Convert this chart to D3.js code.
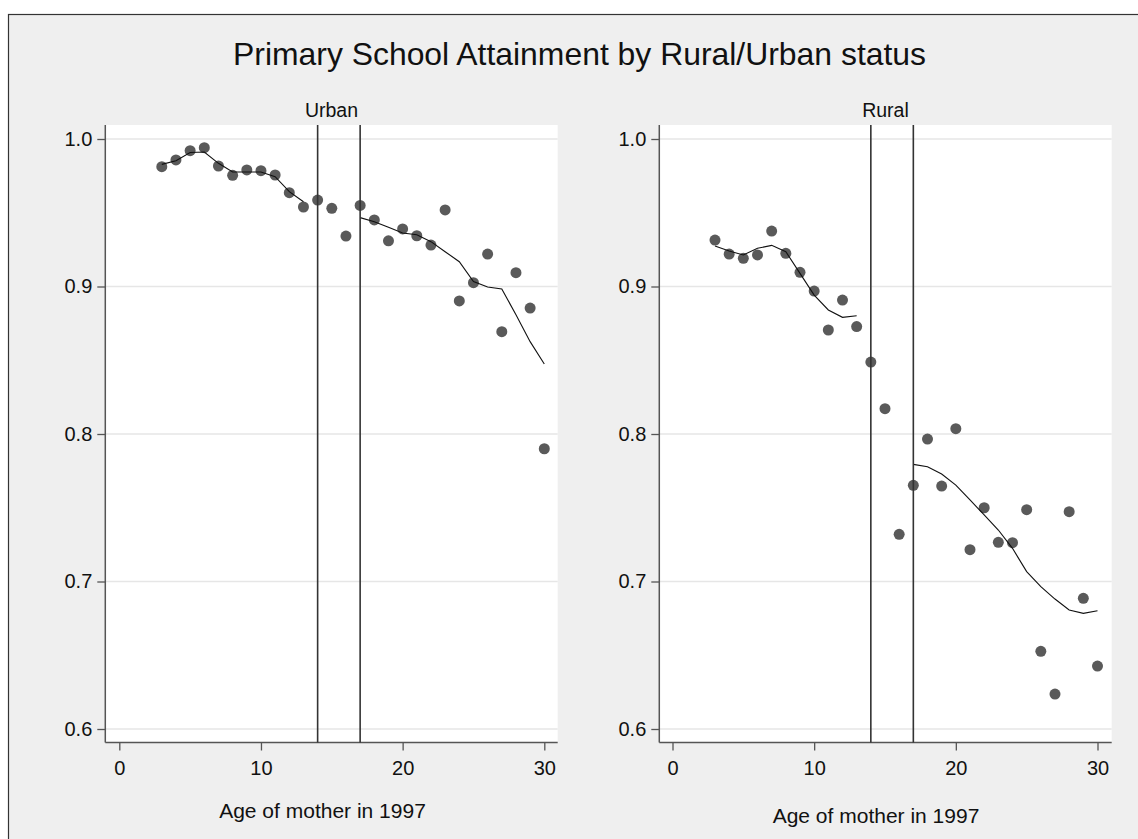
<!DOCTYPE html>
<html>
<head>
<meta charset="utf-8">
<script src="https://cdn.jsdelivr.net/npm/d3@7"></script>
<style>
  html, body { margin: 0; padding: 0; background: #ffffff; }
  svg { display: block; font-family: "Liberation Sans", Arial, sans-serif; }
</style>
</head>
<body>
<svg id="chart" width="1138" height="839"></svg>
<script>
// Age of mother in 1997 (x values shared by both panels)
const ages = d3.range(3, 31);

// Share completing primary school, by age
const urbanShare = [0.9812, 0.9858, 0.9921, 0.9941, 0.9817, 0.9754, 0.9790, 0.9785,
  0.9756, 0.9636, 0.9539, 0.9586, 0.9530, 0.9342, 0.9550, 0.9451, 0.9310, 0.9390,
  0.9344, 0.9281, 0.9519, 0.8902, 0.9026, 0.9220, 0.8694, 0.9094, 0.8854, 0.7900];
const ruralShare = [0.9315, 0.9220, 0.9191, 0.9214, 0.9376, 0.9225, 0.9096, 0.8969,
  0.8705, 0.8908, 0.8728, 0.8488, 0.8172, 0.7320, 0.7652, 0.7966, 0.7647, 0.8036,
  0.7216, 0.7500, 0.7266, 0.7263, 0.7487, 0.6527, 0.6237, 0.7473, 0.6886, 0.6427];

// Smoothed fits, estimated separately below age 14 and from age 17 on
const fitAgesEarly = d3.range(3, 14);
const fitAgesLate = d3.range(17, 31);
const urbanFitEarly = [0.9828, 0.9853, 0.9908, 0.9912, 0.9835, 0.9776, 0.9776, 0.9776, 0.9745, 0.9643, 0.9575];
const urbanFitLate = [0.9467, 0.9439, 0.9401, 0.9363, 0.9351, 0.9304, 0.9236, 0.9168, 0.9033, 0.8997, 0.8983, 0.8809, 0.8626, 0.8475];
const ruralFitEarly = [0.9275, 0.9241, 0.9214, 0.9259, 0.9279, 0.9236, 0.9089, 0.8942, 0.8841, 0.8791, 0.8802];
const ruralFitLate = [0.7794, 0.7778, 0.7729, 0.7654, 0.7553, 0.7451, 0.7349, 0.7225, 0.7067, 0.6965, 0.6881, 0.6807, 0.6784, 0.6802];

// Cut-off ages marked with vertical lines
const cutoffAges = [14, 17];

// Axis ticks
const xTicks = [0, 10, 20, 30];
const yTicks = [0.6, 0.7, 0.8, 0.9, 1.0];

const chartTitle = "Primary School Attainment by Rural/Urban status";
const xTitle = "Age of mother in 1997";

const panels = [
  { name: "Urban", share: urbanShare, fitEarly: urbanFitEarly, fitLate: urbanFitLate,
    left: 105.3, right: 557.7, x0: 119.3, x30: 544.3, xTitleX: 322.5, xTitleY: 818 },
  { name: "Rural", share: ruralShare, fitEarly: ruralFitEarly, fitLate: ruralFitLate,
    left: 659.3, right: 1111.7, x0: 672.5, x30: 1097.5, xTitleX: 876, xTitleY: 823 }
];

const svg = d3.select("#chart");

// Outer graph frame (runs off the right and bottom edges)
svg.append("rect")
  .attr("x", 8.5).attr("y", 14.5)
  .attr("width", 1200).attr("height", 900)
  .attr("fill", "#efefef")
  .attr("stroke", "#333").attr("stroke-width", 1.2);

svg.append("text")
  .attr("x", 579.5).attr("y", 65)
  .attr("text-anchor", "middle")
  .attr("font-size", 31.9)
  .attr("fill", "#111")
  .text(chartTitle);

const plotTop = 125, plotBottom = 742.5;
const y = d3.scaleLinear().domain([0.6, 1.0]).range([729, 139]);

panels.forEach(p => {
  const x = d3.scaleLinear().domain([0, 30]).range([p.x0, p.x30]);
  const g = svg.append("g");

  // plot region
  g.append("rect")
    .attr("x", p.left).attr("y", plotTop)
    .attr("width", p.right - p.left).attr("height", plotBottom - plotTop)
    .attr("fill", "#ffffff");

  // horizontal grid
  g.selectAll("line.grid").data(yTicks).join("line")
    .attr("class", "grid")
    .attr("x1", p.left).attr("x2", p.right)
    .attr("y1", d => y(d)).attr("y2", d => y(d))
    .attr("stroke", "#e6e6e6").attr("stroke-width", 1.6);

  // panel label
  g.append("text")
    .attr("x", (p.left + p.right) / 2).attr("y", 117)
    .attr("text-anchor", "middle")
    .attr("font-size", 19.5)
    .attr("fill", "#111")
    .text(p.name);

  // y axis
  const yAxis = d3.axisLeft(y).tickValues(yTicks).tickFormat(d3.format(".1f"))
    .tickSize(8).tickPadding(5);
  const ya = g.append("g").attr("transform", `translate(${p.left},0)`).call(yAxis);
  ya.select(".domain").attr("d", `M0,${plotTop}V${plotBottom}`)
    .attr("stroke", "#555").attr("stroke-width", 1.5);
  ya.selectAll(".tick line").attr("stroke", "#555").attr("stroke-width", 1.3);
  ya.selectAll(".tick text").attr("font-size", 20).attr("fill", "#111")
    .attr("font-family", "Liberation Sans, Arial, sans-serif");

  // x axis
  const xAxis = d3.axisBottom(x).tickValues(xTicks).tickFormat(d3.format("d"))
    .tickSize(8).tickPadding(10);
  const xa = g.append("g").attr("transform", `translate(0,${plotBottom})`).call(xAxis);
  xa.select(".domain").attr("d", `M${p.left},0H${p.right}`)
    .attr("stroke", "#555").attr("stroke-width", 1.5);
  xa.selectAll(".tick line").attr("stroke", "#555").attr("stroke-width", 1.3);
  xa.selectAll(".tick text").attr("font-size", 20).attr("fill", "#111")
    .attr("font-family", "Liberation Sans, Arial, sans-serif");

  g.append("text")
    .attr("x", p.xTitleX).attr("y", p.xTitleY)
    .attr("text-anchor", "middle")
    .attr("font-size", 21)
    .attr("fill", "#111")
    .text(xTitle);

  // scatter of shares
  g.selectAll("circle.pt").data(ages.map((a, i) => [a, p.share[i]])).join("circle")
    .attr("class", "pt")
    .attr("cx", d => x(d[0])).attr("cy", d => y(d[1]))
    .attr("r", 5.5)
    .attr("fill", "#5a5a5a");

  // smoothed fits
  const line = d3.line().x(d => x(d[0])).y(d => y(d[1]));
  [[fitAgesEarly, p.fitEarly], [fitAgesLate, p.fitLate]].forEach(([xs, vs]) => {
    g.append("path")
      .datum(xs.map((a, i) => [a, vs[i]]))
      .attr("d", line)
      .attr("fill", "none")
      .attr("stroke", "#111")
      .attr("stroke-width", 1.1);
  });

  // cut-off lines
  g.selectAll("line.cut").data(cutoffAges).join("line")
    .attr("class", "cut")
    .attr("x1", d => x(d)).attr("x2", d => x(d))
    .attr("y1", plotTop).attr("y2", plotBottom)
    .attr("stroke", "#333").attr("stroke-width", 1.6);
});
</script>
</body>
</html>
